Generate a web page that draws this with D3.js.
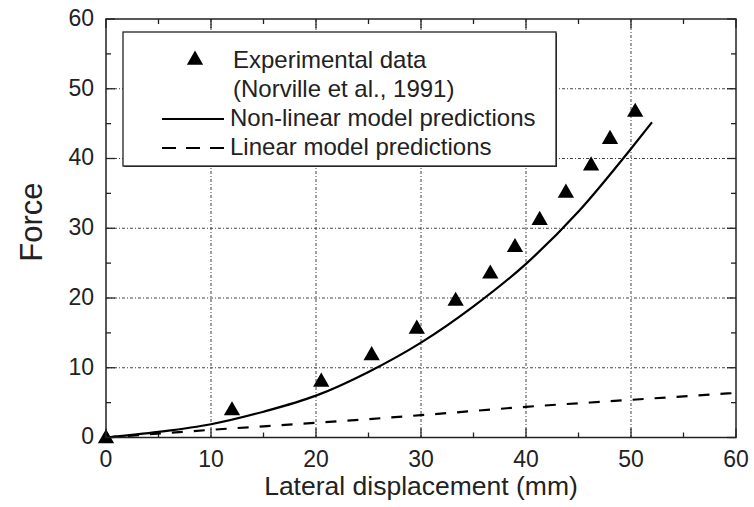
<!DOCTYPE html>
<html lang="en">
<head>
<meta charset="UTF-8">
<title>Force vs lateral displacement</title>
<style>
  body { margin: 0; background: #fff; }
  svg { display: block; font-family: "Liberation Sans", Arial, sans-serif; }
  .grid line { stroke: #444; stroke-width: 1; stroke-dasharray: 3,2,1,2; }
  .tick-label { font-size: 23px; fill: #222; }
</style>
</head>
<body>
<div id="chart"></div>
<script src="https://d3js.org/d3.v7.min.js"></script>
<script>
// experimental data (Norville et al., 1991)
const expX = [0, 12.0, 20.5, 25.3, 29.6, 33.3, 36.6, 38.95, 41.3, 43.8, 46.2, 48.0, 50.4];
const expY = [0, 4.0, 8.1, 11.9, 15.7, 19.7, 23.6, 27.4, 31.3, 35.2, 39.1, 42.9, 46.8];

// non-linear model predictions
const nonlinX = [0, 5, 10, 15, 20, 25, 30, 35, 40, 45, 50, 52];
const nonlinY = [0, 0.8, 1.9, 3.7, 6.0, 9.4, 13.6, 18.8, 24.9, 32.4, 41.4, 45.2];

// linear model predictions
const linX = [0, 10, 20, 30, 40, 50, 60];
const linY = [0, 1.1, 2.1, 3.2, 4.4, 5.4, 6.4];

const xTicks = [0, 10, 20, 30, 40, 50, 60];
const yTicks = [0, 10, 20, 30, 40, 50, 60];
const minorTicks = [5, 15, 25, 35, 45, 55];

const legendLabels = ["Experimental data", "(Norville et al., 1991)", "Non-linear model predictions", "Linear model predictions"];

const W = 754, H = 507;
const margin = {left: 106, top: 19, right: 18, bottom: 69.5};
const iw = W - margin.left - margin.right;
const ih = H - margin.top - margin.bottom;

const svg = d3.select("#chart").append("svg")
  .attr("width", W).attr("height", H);

const x = d3.scaleLinear().domain([0, 60]).range([0, iw]);
const y = d3.scaleLinear().domain([0, 60]).range([ih, 0]);

const g = svg.append("g").attr("transform", `translate(${margin.left},${margin.top})`);

// grid lines
const grid = g.append("g").attr("class", "grid");
grid.selectAll(".vx").data(xTicks.slice(1, -1)).join("line")
  .attr("x1", d => x(d)).attr("x2", d => x(d)).attr("y1", 0).attr("y2", ih);
grid.selectAll(".hy").data(yTicks.slice(1, -1)).join("line")
  .attr("y1", d => y(d)).attr("y2", d => y(d)).attr("x1", 0).attr("x2", iw);

// ticks on all four sides, pointing inward
const ticks = g.append("g").attr("stroke", "#222").attr("stroke-width", 1.3);
function addTicks(vals, len) {
  vals.forEach(v => {
    ticks.append("line").attr("x1", x(v)).attr("x2", x(v)).attr("y1", ih).attr("y2", ih - len);
    ticks.append("line").attr("x1", x(v)).attr("x2", x(v)).attr("y1", 0).attr("y2", len);
    ticks.append("line").attr("y1", y(v)).attr("y2", y(v)).attr("x1", 0).attr("x2", len);
    ticks.append("line").attr("y1", y(v)).attr("y2", y(v)).attr("x1", iw).attr("x2", iw - len);
  });
}
addTicks(xTicks, 9);
addTicks(minorTicks, 5);

// tick labels
g.selectAll(".xl").data(xTicks).join("text")
  .attr("class", "tick-label")
  .attr("x", d => x(d)).attr("y", ih + 29)
  .attr("text-anchor", "middle").text(d => d);
g.selectAll(".yl").data(yTicks).join("text")
  .attr("class", "tick-label")
  .attr("x", -12).attr("y", d => y(d)).attr("dy", "0.3em")
  .attr("text-anchor", "end").text(d => d);

// axis titles
svg.append("text")
  .attr("x", margin.left + iw / 2).attr("y", 495)
  .attr("text-anchor", "middle")
  .attr("font-size", 26.5).attr("fill", "#222")
  .text("Lateral displacement (mm)");
svg.append("text")
  .attr("transform", "translate(42,222) rotate(-90)")
  .attr("text-anchor", "middle")
  .attr("font-size", 31).attr("fill", "#222")
  .text("Force");

// curves
const lineGen = d3.line().x(d => x(d[0])).y(d => y(d[1])).curve(d3.curveMonotoneX);
g.append("path")
  .datum(linX.map((v, i) => [v, linY[i]]))
  .attr("d", lineGen)
  .attr("fill", "none").attr("stroke", "#000").attr("stroke-width", 2.2)
  .attr("stroke-dasharray", "11,11");
g.append("path")
  .datum(nonlinX.map((v, i) => [v, nonlinY[i]]))
  .attr("d", lineGen)
  .attr("fill", "none").attr("stroke", "#000").attr("stroke-width", 2.2);

// triangle markers
const tri = d3.symbol().type(d3.symbolTriangle).size(115);
g.selectAll(".pt").data(expX.map((v, i) => [v, expY[i]])).join("path")
  .attr("d", tri)
  .attr("transform", d => `translate(${x(d[0])},${y(d[1]) + 1})`)
  .attr("fill", "#000");

// frame
g.append("rect").attr("width", iw).attr("height", ih)
  .attr("fill", "none").attr("stroke", "#222").attr("stroke-width", 1.5);

// legend
const lg = svg.append("g");
lg.append("rect").attr("x", 124).attr("y", 33).attr("width", 433).attr("height", 134)
  .attr("fill", "#333");
lg.append("rect").attr("x", 123).attr("y", 32).attr("width", 433).attr("height", 134)
  .attr("fill", "#fff").attr("stroke", "#222").attr("stroke-width", 1.3);
lg.append("path").attr("d", tri).attr("transform", "translate(195,60)").attr("fill", "#000");
lg.append("line").attr("x1", 162).attr("x2", 224).attr("y1", 119).attr("y2", 119)
  .attr("stroke", "#000").attr("stroke-width", 2.2);
lg.append("line").attr("x1", 162).attr("x2", 224).attr("y1", 148).attr("y2", 148)
  .attr("stroke", "#000").attr("stroke-width", 2.2).attr("stroke-dasharray", "14,10");
lg.selectAll(".lt").data(legendLabels).join("text")
  .attr("x", (d, i) => i < 2 ? 233 : 230)
  .attr("y", (d, i) => 67.5 + i * 29.2)
  .attr("font-size", 24).attr("fill", "#222")
  .text(d => d);
</script>
</body>
</html>
